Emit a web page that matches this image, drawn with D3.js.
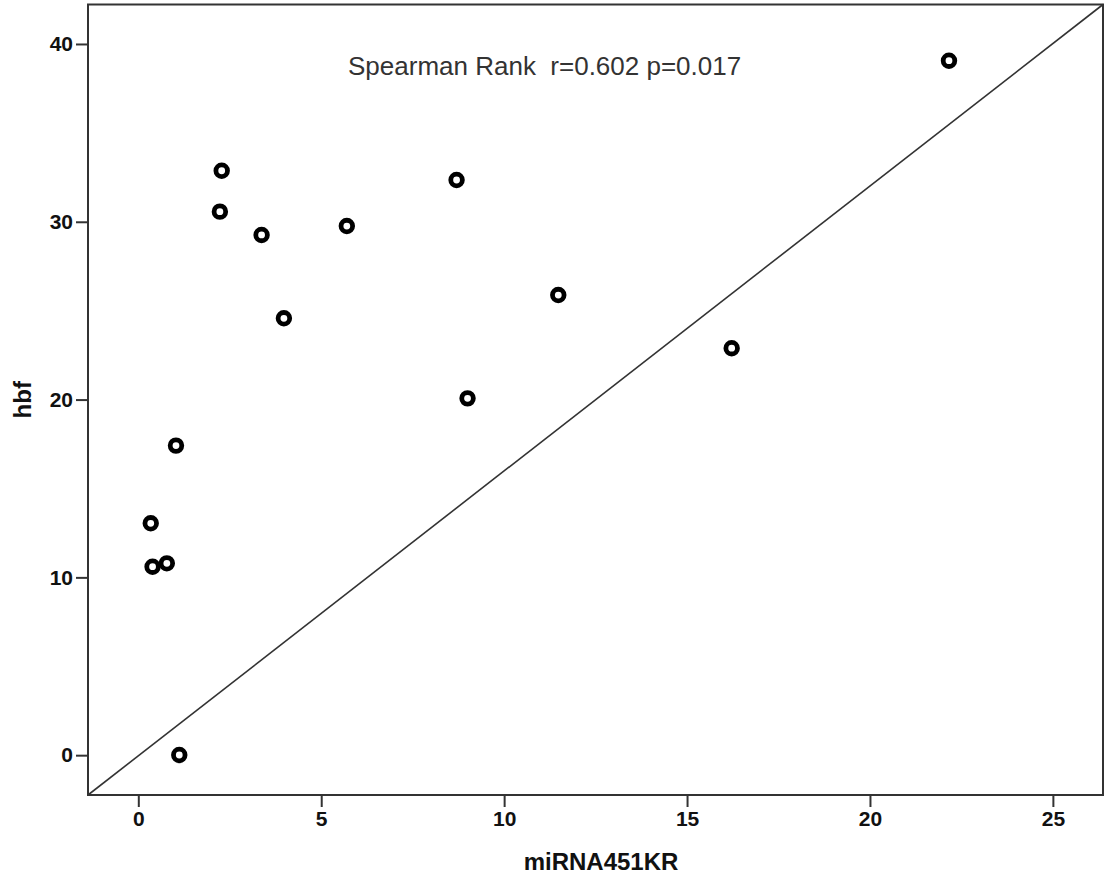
<!DOCTYPE html>
<html>
<head>
<meta charset="utf-8">
<script src="https://cdn.jsdelivr.net/npm/d3@7"></script>
<style>
  html, body { margin: 0; padding: 0; background: #fff; }
  svg { display: block; }
</style>
</head>
<body>
<svg id="chart" width="1108" height="882"></svg>
<script>
// ---- data ----
const mirna = [22.16, 2.28, 2.23, 3.37, 5.70, 8.70, 3.98, 11.48, 16.22, 9.00, 1.03, 0.34, 0.39, 0.78, 1.12];
const hbf   = [39.06, 32.87, 30.57, 29.26, 29.76, 32.35, 24.57, 25.88, 22.89, 20.07, 17.41, 13.04, 10.60, 10.79, 0.01];
const xTicks = [0, 5, 10, 15, 20, 25];
const yTicks = [0, 10, 20, 30, 40];
const xDomain = [-1.375, 26.37];
const yDomain = [-2.24, 42.22];
const xTitle = "miRNA451KR";
const yTitle = "hbf";
const annotation = "Spearman Rank  r=0.602 p=0.017";

// ---- layout ----
const svg = d3.select("#chart");
const m = { left: 88, top: 4.5, right: 1103, bottom: 795 };
const x = d3.scaleLinear().domain(xDomain).range([m.left, m.right]);
const y = d3.scaleLinear().domain(yDomain).range([m.bottom, m.top]);

// frame
svg.append("rect")
  .attr("x", m.left).attr("y", m.top)
  .attr("width", m.right - m.left).attr("height", m.bottom - m.top)
  .attr("fill", "none").attr("stroke", "#333").attr("stroke-width", 2);

// diagonal reference line
svg.append("line")
  .attr("x1", x(xDomain[0])).attr("y1", y(yDomain[0]))
  .attr("x2", x(xDomain[1])).attr("y2", y(yDomain[1]))
  .attr("stroke", "#333").attr("stroke-width", 1.6);

// axes
const xAxis = svg.append("g")
  .attr("transform", `translate(0,${m.bottom})`)
  .call(d3.axisBottom(x).tickValues(xTicks).tickSize(12).tickPadding(4).tickFormat(d3.format("d")));
const yAxis = svg.append("g")
  .attr("transform", `translate(${m.left},0)`)
  .call(d3.axisLeft(y).tickValues(yTicks).tickSize(12).tickPadding(3).tickFormat(d3.format("d")));
[xAxis, yAxis].forEach(g => {
  g.attr("font-size", null).attr("font-family", null);
  g.select(".domain").remove();
  g.selectAll(".tick line").attr("stroke", "#333").attr("stroke-width", 2);
  g.selectAll(".tick text")
    .attr("fill", "#111")
    .style("font-family", "'Liberation Sans', Arial, sans-serif")
    .style("font-weight", "bold")
    .style("font-size", "21px");
});

// points
svg.append("g").selectAll("circle")
  .data(mirna.map((v, i) => [v, hbf[i]]))
  .join("circle")
  .attr("cx", d => x(d[0]))
  .attr("cy", d => y(d[1]))
  .attr("r", 5.8)
  .attr("fill", "none")
  .attr("stroke", "#000")
  .attr("stroke-width", 4.8);

// annotation
svg.append("text")
  .attr("x", 348).attr("y", 75)
  .attr("fill", "#333")
  .style("white-space", "pre")
  .attr("xml:space", "preserve")
  .style("font-family", "'Liberation Sans', Arial, sans-serif")
  .style("font-size", "26px")
  .text(annotation);

// axis titles
svg.append("text")
  .attr("x", 601).attr("y", 870)
  .attr("text-anchor", "middle")
  .attr("fill", "#111")
  .style("font-family", "'Liberation Sans', Arial, sans-serif")
  .style("font-weight", "bold")
  .style("font-size", "24px")
  .text(xTitle);

svg.append("text")
  .attr("transform", `translate(31,${(m.top + m.bottom) / 2}) rotate(-90)`)
  .attr("text-anchor", "middle")
  .attr("fill", "#111")
  .style("font-family", "'Liberation Sans', Arial, sans-serif")
  .style("font-weight", "bold")
  .style("font-size", "24px")
  .text(yTitle);
</script>
</body>
</html>
